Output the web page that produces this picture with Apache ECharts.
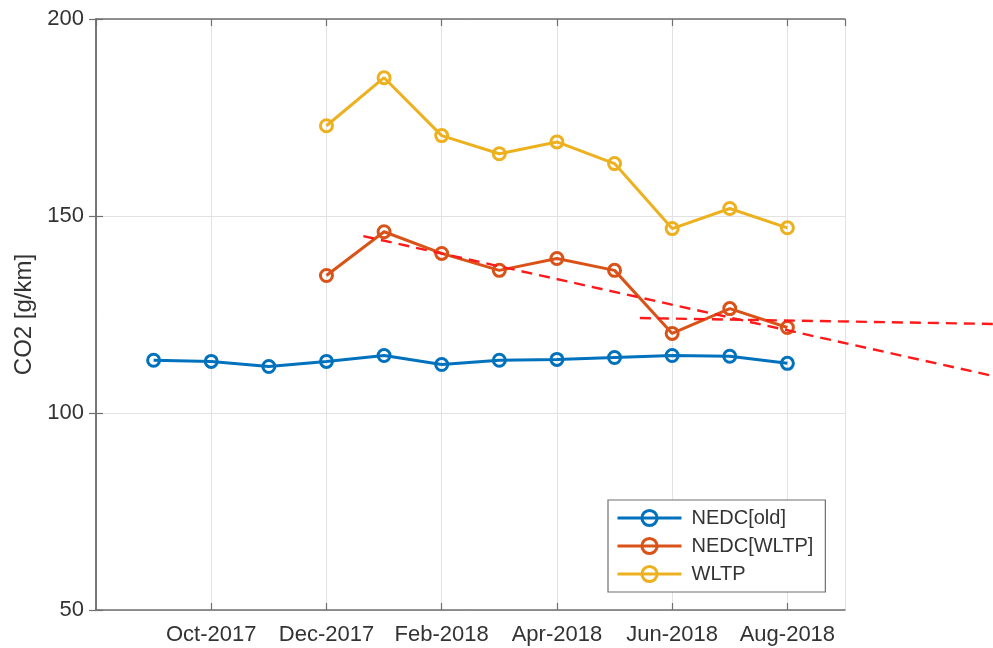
<!DOCTYPE html>
<html>
<head>
<meta charset="utf-8">
<script src="https://cdn.jsdelivr.net/npm/echarts@6/dist/echarts.min.js"></script>
<style>
html,body{margin:0;padding:0;background:#fff;}
#chart{width:993px;height:648px;}
</style>
</head>
<body>
<div id="chart"></div>
<script>
// Month index: 0 = Aug-2017 ... 13 = Sep-2018
const monthNames = ['Aug-2017','Sep-2017','Oct-2017','Nov-2017','Dec-2017','Jan-2018','Feb-2018','Mar-2018','Apr-2018','May-2018','Jun-2018','Jul-2018','Aug-2018','Sep-2018'];
const tickLabels = ['Oct-2017','Dec-2017','Feb-2018','Apr-2018','Jun-2018','Aug-2018'];
const months = [1,2,3,4,5,6,7,8,9,10,11,12];
const nedcOld  = [113.4,113.1,111.8,113.1,114.6,112.3,113.4,113.6,114.1,114.6,114.4,112.6];
const nedcWltp = [null,null,null,134.9,146.0,140.5,136.2,139.2,136.2,120.2,126.5,121.7];
const wltp     = [null,null,null,172.9,185.1,170.4,165.8,168.8,163.3,146.8,151.9,147.0];
const trend1 = [[4.64,144.9],[15.57,109.4]];
const trend2 = [[9.44,124.1],[15.57,122.6]];
const seriesNames = ['NEDC[old]','NEDC[WLTP]','WLTP'];
const colors = ['#0072BD','#D95319','#EDB120'];

function pairs(vals){ return months.map((m,i)=> vals[i]==null ? null : [m, vals[i]]).filter(p=>p); }

const axisColor = '#6f6f6f';
const textColor = '#333333';
const font = 'Liberation Sans, Arial, sans-serif';
const PLOT_LEFT = 96, PLOT_RIGHT = 148, PLOT_TOP = 19, PLOT_BOTTOM = 38;
const PX_PER_MONTH = (993 - PLOT_LEFT - PLOT_RIGHT) / 13;
const extMax = (993 - PLOT_LEFT) / PX_PER_MONTH; // extended x range for the overlay grid

const chart = echarts.init(document.getElementById('chart'), null, {renderer:'canvas'});
function lineSeries(name, vals, color){
  return {
    name, type:'line', data: pairs(vals), xAxisIndex:0, yAxisIndex:0,
    symbol:'circle', symbolSize:12,
    lineStyle:{color, width:3},
    itemStyle:{color:'rgba(255,255,255,0)', borderColor:color, borderWidth:3},
    emphasis:{disabled:true}, animation:false, z:3
  };
}
const tickStyle = {show:true, inside:true, length:7, lineStyle:{color:axisColor, width:1.2}};
const lineAx = {show:true, lineStyle:{color:axisColor, width:1.5}};
const option = {
  animation:false,
  backgroundColor:'#ffffff',
  textStyle:{fontFamily:font},
  grid:[
    {left:PLOT_LEFT, right:PLOT_RIGHT, top:PLOT_TOP, bottom:PLOT_BOTTOM, containLabel:false},
    {left:PLOT_LEFT, right:0, top:PLOT_TOP, bottom:PLOT_BOTTOM, containLabel:false}
  ],
  xAxis:[{
    type:'value', min:0, max:13, interval:2, position:'bottom', gridIndex:0,
    axisLine:lineAx, axisTick:tickStyle,
    axisLabel:{show:true, color:textColor, fontSize:22, fontFamily:font, margin:14,
      showMinLabel:false, showMaxLabel:false,
      formatter: v => (tickLabels.indexOf(monthNames[v])>=0 ? monthNames[v] : '')},
    splitLine:{show:true, lineStyle:{color:'#e2e2e2', width:1}}
  },{
    type:'value', min:0, max:13, interval:2, position:'top', gridIndex:0,
    axisLine:lineAx, axisTick:tickStyle,
    axisLabel:{show:false}, splitLine:{show:false}
  },{
    type:'value', min:0, max:extMax, gridIndex:1, show:false
  }],
  yAxis:[{
    type:'value', min:50, max:200, interval:50, position:'left', gridIndex:0,
    name:'CO2 [g/km]', nameLocation:'middle', nameGap:51, nameRotate:90,
    nameTextStyle:{color:textColor, fontSize:24, fontFamily:font},
    axisLine:lineAx, axisTick:tickStyle,
    axisLabel:{color:textColor, fontSize:22, fontFamily:font, margin:12},
    splitLine:{show:true, lineStyle:{color:'#e2e2e2', width:1}}
  },{
    type:'value', min:50, max:200, interval:50, position:'right', gridIndex:0,
    axisLine:lineAx, axisTick:tickStyle,
    axisLabel:{show:false}, splitLine:{show:false}
  },{
    type:'value', min:50, max:200, gridIndex:1, show:false
  }],
  legend:{
    data:seriesNames, orient:'vertical', left:608, top:500,
    backgroundColor:'#ffffff', borderColor:axisColor, borderWidth:1.2,
    padding:[8,12,8,8], itemGap:8, itemWidth:64, itemHeight:19,
    textStyle:{color:textColor, fontSize:20, fontFamily:font, lineHeight:20, padding:[0,0,0,5]},
    lineStyle:{width:3},
    itemStyle:{borderWidth:3},
    selectedMode:false, z:10
  },
  series:[
    lineSeries(seriesNames[0], nedcOld, colors[0]),
    lineSeries(seriesNames[1], nedcWltp, colors[1]),
    lineSeries(seriesNames[2], wltp, colors[2]),
    {name:'trend1', type:'line', data:trend1, xAxisIndex:2, yAxisIndex:2, symbol:'none', silent:true,
     lineStyle:{color:'#ff1a1a', width:2.4, type:[11,7]}, z:4},
    {name:'trend2', type:'line', data:trend2, xAxisIndex:2, yAxisIndex:2, symbol:'none', silent:true,
     lineStyle:{color:'#ff1a1a', width:2.4, type:[11,7]}, z:4}
  ]
};
chart.setOption(option);
</script>
</body>
</html>
